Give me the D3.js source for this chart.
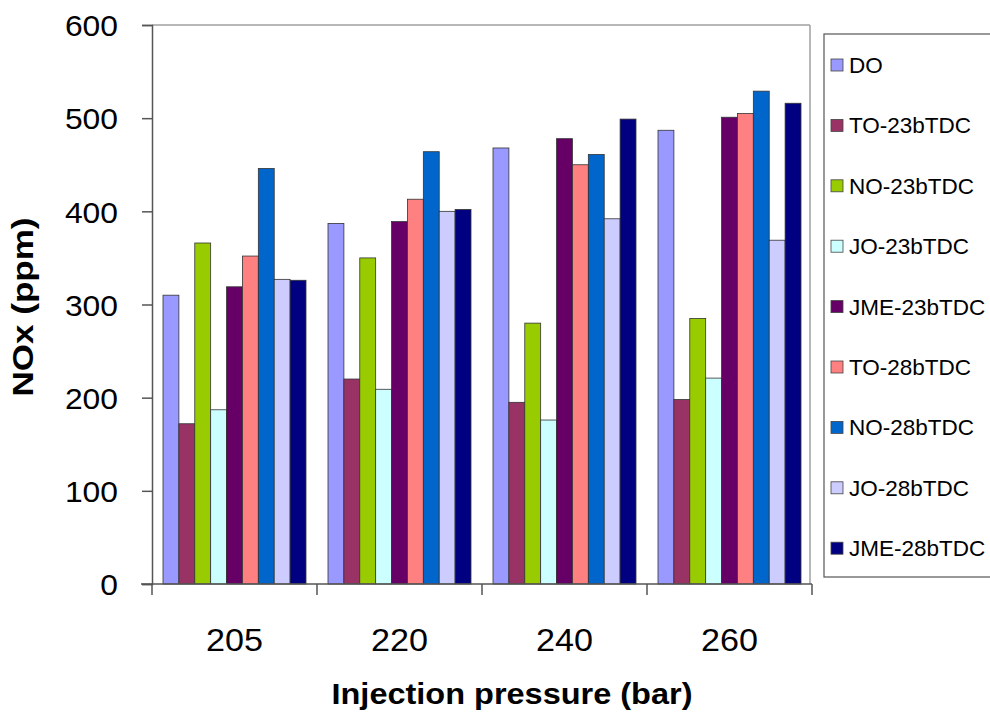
<!DOCTYPE html>
<html>
<head>
<meta charset="utf-8">
<script src="https://cdn.jsdelivr.net/npm/d3@7"></script>
<style>
  html, body { margin: 0; padding: 0; background: #fff; }
  svg { display: block; font-family: "Liberation Sans", Arial, sans-serif; }
</style>
</head>
<body>
<svg id="chart" width="990" height="716"></svg>
<script>
const categories = ["205", "220", "240", "260"];
const seriesNames = ["DO", "TO-23bTDC", "NO-23bTDC", "JO-23bTDC", "JME-23bTDC", "TO-28bTDC", "NO-28bTDC", "JO-28bTDC", "JME-28bTDC"];
const DO        = [310, 387, 468, 487];
const TO_23     = [172, 220, 195, 198];
const NO_23     = [366, 350, 280, 285];
const JO_23     = [187, 209, 176, 221];
const JME_23    = [319, 389, 478, 501];
const TO_28     = [352, 413, 450, 505];
const NO_28     = [446, 464, 461, 529];
const JO_28     = [327, 400, 392, 369];
const JME_28    = [326, 402, 499, 516];
const yTicks = [0, 100, 200, 300, 400, 500, 600];
const colors = ["#9999FF", "#993366", "#99CC00", "#CCFFFF", "#660066", "#FF8080", "#0066CC", "#CCCCFF", "#000080"];

const seriesValues = [DO, TO_23, NO_23, JO_23, JME_23, TO_28, NO_28, JO_28, JME_28];
const series = seriesNames.map((name, i) => ({ name, values: seriesValues[i], color: colors[i] }));

(function () {
const svg = d3.select("#chart");
const pL = 152, pR = 812, pT = 25, pB = 584;

const x0 = d3.scaleBand().domain(categories).range([pL, pR]).padding(0);
const x1 = d3.scaleBand().domain(seriesNames).range([11, x0.bandwidth() - 11]).padding(0);
const y = d3.scaleLinear().domain([0, 600]).range([pB, pT]);

// plot area border (top & right)
svg.append("line").attr("x1", pL).attr("x2", 810).attr("y1", pT).attr("y2", pT)
  .attr("stroke", "#a0a0a0").attr("stroke-width", 1.5);
svg.append("line").attr("x1", 810).attr("x2", 810).attr("y1", pT).attr("y2", pB)
  .attr("stroke", "#a0a0a0").attr("stroke-width", 1.5);

// bars
const groups = svg.append("g").selectAll("g").data(categories).join("g")
  .attr("transform", d => `translate(${x0(d)},0)`);
groups.selectAll("rect")
  .data((c, ci) => series.map(s => ({ name: s.name, value: s.values[ci], color: s.color })))
  .join("rect")
  .attr("x", d => x1(d.name))
  .attr("y", d => y(d.value))
  .attr("width", x1.bandwidth())
  .attr("height", d => y(0) - y(d.value))
  .attr("fill", d => d.color)
  .attr("stroke", "#333")
  .attr("stroke-width", 0.8);

// y axis
const yAxis = svg.append("g").attr("transform", `translate(${pL},0)`)
  .call(d3.axisLeft(y).tickValues(yTicks).tickSize(10).tickPadding(24).tickFormat(d3.format("d")));
yAxis.select(".domain").attr("stroke", "#555").attr("stroke-width", 1.5);
yAxis.selectAll(".tick line").attr("stroke", "#555").attr("stroke-width", 1.5);
yAxis.selectAll(".tick text")
  .attr("font-size", 30).attr("fill", "#000")
  .attr("font-family", "Liberation Sans, Arial, sans-serif")
  .attr("dy", "0.36em")
  .attr("textLength", d => String(d).length * 17.7).attr("lengthAdjust", "spacingAndGlyphs");

// x axis
const xAxis = svg.append("g").attr("transform", `translate(0,${pB})`)
  .call(d3.axisBottom(x0).tickSize(0).tickPadding(0).tickFormat(d => d));
xAxis.select(".domain").remove();
svg.append("line").attr("x1", 141).attr("x2", pR).attr("y1", pB).attr("y2", pB)
  .attr("stroke", "#555").attr("stroke-width", 1.5);
const catEdges = categories.map(c => x0(c)).concat([pR]);
svg.append("g").selectAll("line").data(catEdges).join("line")
  .attr("x1", d => d).attr("x2", d => d).attr("y1", pB).attr("y2", pB + 11)
  .attr("stroke", "#555").attr("stroke-width", 1.5);
xAxis.selectAll(".tick text")
  .attr("font-size", 31).attr("fill", "#000")
  .attr("font-family", "Liberation Sans, Arial, sans-serif")
  .attr("y", 67).attr("dy", 0)
  .attr("textLength", 57).attr("lengthAdjust", "spacingAndGlyphs");

// axis titles
svg.append("text")
  .attr("x", 512).attr("y", 704)
  .attr("text-anchor", "middle")
  .attr("font-size", 29).attr("font-weight", "bold")
  .attr("textLength", 361).attr("lengthAdjust", "spacingAndGlyphs")
  .text("Injection pressure (bar)");
svg.append("text")
  .attr("transform", "translate(33,307) rotate(-90)")
  .attr("text-anchor", "middle")
  .attr("font-size", 30).attr("font-weight", "bold")
  .attr("textLength", 179).attr("lengthAdjust", "spacingAndGlyphs")
  .text("NOx (ppm)");

// legend
svg.append("rect").attr("x", 824).attr("y", 34).attr("width", 180).attr("height", 543)
  .attr("fill", "#fff").attr("stroke", "#555").attr("stroke-width", 1.2);
const leg = svg.append("g").selectAll("g").data(series).join("g")
  .attr("transform", (d, i) => `translate(0,${65 + i * 60.4})`);
leg.append("rect").attr("x", 831).attr("y", -6).attr("width", 12).attr("height", 12)
  .attr("fill", d => d.color).attr("stroke", "#444").attr("stroke-width", 0.8);
leg.append("text").attr("x", 849).attr("y", 8)
  .attr("font-size", 22.5).attr("fill", "#000")
  .text(d => d.name);
})();
</script>
</body>
</html>
